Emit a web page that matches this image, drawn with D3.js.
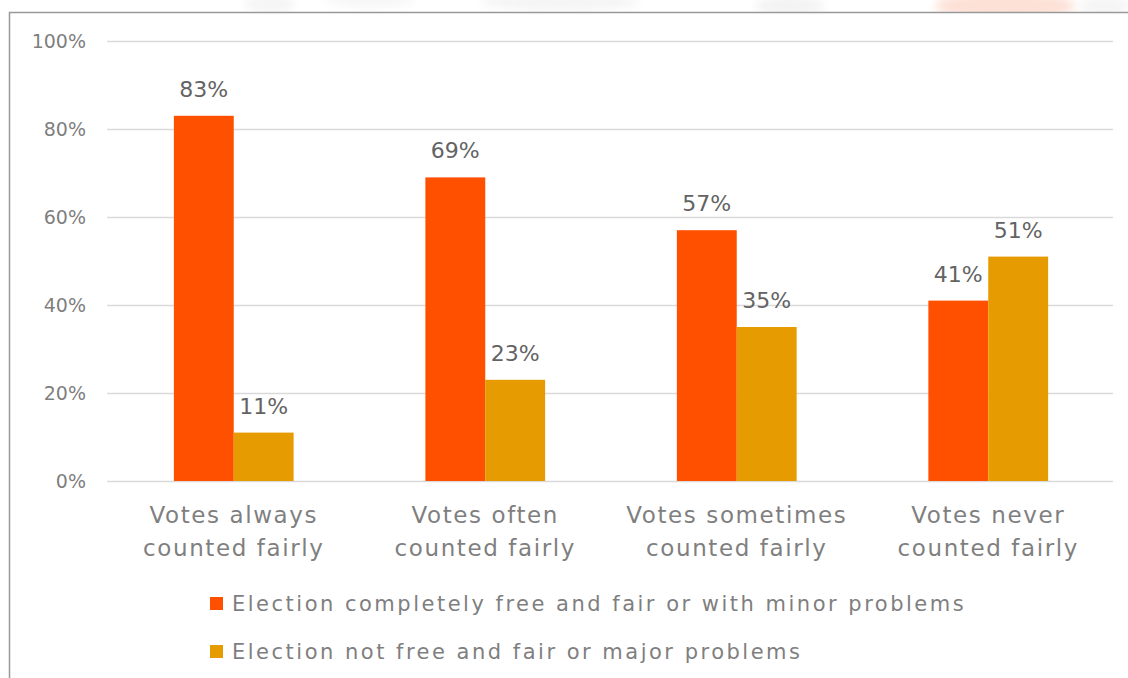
<!DOCTYPE html>
<html>
<head>
<meta charset="utf-8">
<script src="https://cdn.jsdelivr.net/npm/d3@7"></script>
<style>
  html, body { margin: 0; padding: 0; background: #fff; }
  svg { display: block; }
  text { font-family: "Century Gothic", "URW Gothic", "DejaVu Sans", sans-serif; }
</style>
</head>
<body>
<svg id="chart" width="1128" height="678"></svg>
<script>
// Survey categories and the two response series (percent)
const categories = [
  ["Votes always", "counted fairly"],
  ["Votes often", "counted fairly"],
  ["Votes sometimes", "counted fairly"],
  ["Votes never", "counted fairly"]
];
const seriesNames = [
  "Election completely free and fair or with minor problems",
  "Election not free and fair or major problems"
];
const freeFair = [83, 69, 57, 41];
const notFreeFair = [11, 23, 35, 51];
const yTicks = [0, 20, 40, 60, 80, 100];

const colors = ["#FF5000", "#E69C00"];
const seriesValues = [freeFair, notFreeFair];

const svg = d3.select("#chart");

// faint slide background strip above the chart frame
const defs = svg.append("defs");
defs.append("filter").attr("id", "soft")
  .append("feGaussianBlur").attr("stdDeviation", 4);
defs.append("clipPath").attr("id", "topStrip")
  .append("rect").attr("x", 0).attr("y", 0).attr("width", 1128).attr("height", 12);
const strip = svg.append("g").attr("clip-path", "url(#topStrip)");
strip.append("g").attr("filter", "url(#soft)").selectAll("ellipse")
  .data([
    { cx: 270, cy: 4, rx: 25, ry: 9, c: "#f5f5f5" },
    { cx: 370, cy: 0, rx: 45, ry: 7, c: "#f6f6f6" },
    { cx: 560, cy: 2, rx: 80, ry: 8, c: "#f4f4f4" },
    { cx: 790, cy: 6, rx: 35, ry: 9, c: "#f3f3f3" },
    { cx: 1005, cy: 6, rx: 70, ry: 14, c: "#fde1d7" },
    { cx: 1105, cy: 6, rx: 25, ry: 10, c: "#f5f5f5" }
  ])
  .join("ellipse")
  .attr("cx", d => d.cx).attr("cy", d => d.cy)
  .attr("rx", d => d.rx).attr("ry", d => d.ry)
  .attr("fill", d => d.c);

// chart frame (top and left edges visible)
svg.append("path")
  .attr("d", "M9.5,678 V12.5 H1128")
  .attr("fill", "none")
  .attr("stroke", "#999")
  .attr("stroke-width", 1.5);

const plot = { left: 107, right: 1113, top: 41, bottom: 481 };

const y = d3.scaleLinear().domain([0, 100]).range([plot.bottom, plot.top]);
const x0 = d3.scaleBand()
  .domain(d3.range(categories.length))
  .range([plot.left + 1, plot.right + 1])
  .padding(0);
const x1 = d3.scaleBand()
  .domain(d3.range(seriesNames.length))
  .range([0, x0.bandwidth()])
  .paddingInner(0)
  .paddingOuter(1.1);

// gridlines and value axis labels
const yAxis = d3.axisLeft(y)
  .tickValues(yTicks)
  .tickSize(-(plot.right - plot.left))
  .tickPadding(21)
  .tickFormat(d => d + "%");
const gy = svg.append("g")
  .attr("transform", `translate(${plot.left},0)`)
  .call(yAxis);
gy.select(".domain").remove();
gy.selectAll(".tick line").attr("stroke", "#d9d9d9").attr("stroke-width", 1.5);
gy.selectAll(".tick text")
  .attr("fill", "#7f7f7f")
  .attr("font-size", 19)
  .attr("font-family", null);

// bars
const groups = svg.append("g").selectAll("g")
  .data(categories.map((c, i) => i))
  .join("g")
  .attr("transform", i => `translate(${x0(i)},0)`);

groups.selectAll("rect")
  .data(i => seriesValues.map((vals, s) => ({ s, v: vals[i] })))
  .join("rect")
  .attr("x", d => x1(d.s))
  .attr("width", x1.bandwidth())
  .attr("y", d => y(d.v))
  .attr("height", d => y(0) - y(d.v))
  .attr("fill", d => colors[d.s]);

// value labels above each bar
groups.selectAll("text.val")
  .data(i => seriesValues.map((vals, s) => ({ s, v: vals[i] })))
  .join("text")
  .attr("class", "val")
  .attr("x", d => x1(d.s) + x1.bandwidth() / 2)
  .attr("y", d => y(d.v) - 19)
  .attr("text-anchor", "middle")
  .attr("fill", "#636363")
  .attr("font-size", 22)
  .text(d => d.v + "%");

// category labels
const xAxis = d3.axisBottom(x0).tickSize(0).tickFormat("");
const gx = svg.append("g")
  .attr("transform", `translate(0,${plot.bottom})`)
  .call(xAxis);
gx.select(".domain").remove();
gx.selectAll(".tick").each(function (i) {
  const t = d3.select(this).append("text")
    .attr("text-anchor", "middle")
    .attr("fill", "#7f7f7f")
    .attr("font-size", 23)
    .attr("letter-spacing", 1.6);
  categories[i].forEach((line, k) => {
    t.append("tspan").attr("x", 0).attr("y", 42 + k * 33).text(line);
  });
});

// legend
const legend = svg.append("g").attr("transform", "translate(210,597)");
const items = legend.selectAll("g")
  .data(seriesNames)
  .join("g")
  .attr("transform", (d, i) => `translate(0,${i * 48})`);
items.append("rect")
  .attr("width", 13).attr("height", 13)
  .attr("fill", (d, i) => colors[i]);
items.append("text")
  .attr("x", 22).attr("y", 6.5)
  .attr("dy", "0.35em")
  .attr("fill", "#7f7f7f")
  .attr("font-size", 21)
  .attr("letter-spacing", 2.5)
  .text(d => d);
</script>
</body>
</html>
